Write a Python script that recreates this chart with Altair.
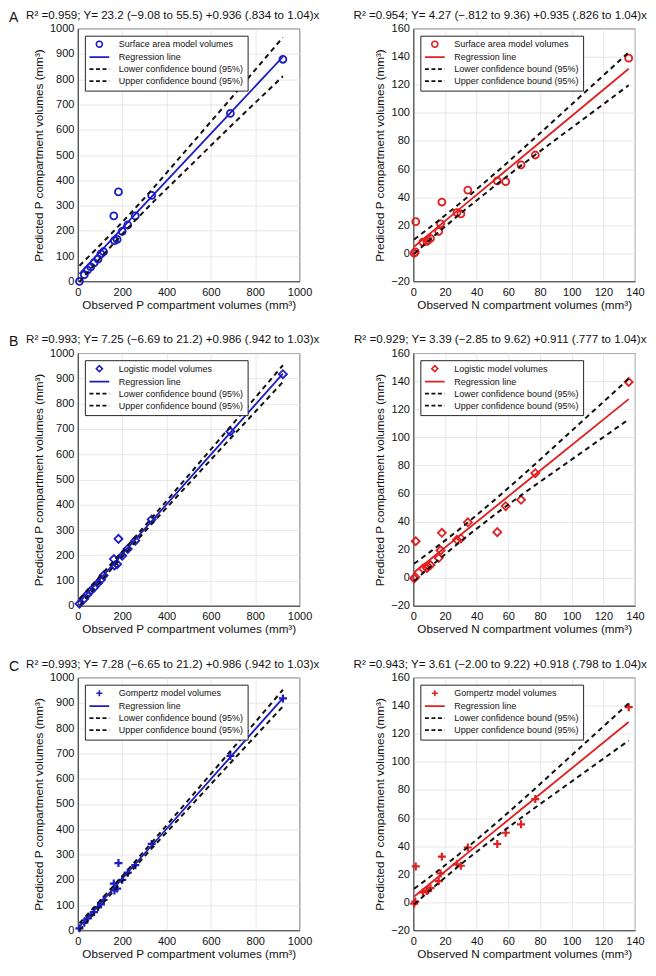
import altair as alt
import numpy as np
import pandas as pd

# ---------------- data ----------------
obs_P = [7, 29, 43, 58, 73, 91, 104, 116, 162, 165, 177, 183, 200, 225, 259, 333, 688, 925]
pred_P_surface = [0, 26, 44, 57, 73, 88, 109, 117, 259, 161, 166, 354, 198, 223, 259, 340, 665, 879]
pred_P_logistic = [8, 28, 45, 60, 72, 90, 103, 120, 185, 160, 165, 265, 198, 225, 258, 342, 690, 917]
pred_P_gompertz = [8, 30, 47, 60, 72, 92, 103, 120, 185, 158, 165, 266, 200, 228, 258, 342, 690, 918]

obs_N = [0.5, 1.2, 1.5, 6, 8.5, 9.3, 10.8, 16, 17.2, 18, 27.5, 30, 34.4, 53, 58.3, 68, 77, 136]
pred_N_surface = [0, 1, 22.5, 8, 8.5, 9.5, 10.5, 15.5, 21, 36.5, 29, 28, 45, 51.5, 51, 63, 70, 139]
pred_N_logistic = [-0.5, 0.5, 26, 6.5, 7, 8, 9, 14, 19.5, 32, 27, 28, 39.5, 32.5, 51, 55.5, 74.5, 139.5]
pred_N_gompertz = [-1, 0.5, 25.5, 7, 8, 8.5, 10, 15, 20.5, 32.5, 27, 26, 39, 41.5, 49.5, 55.5, 73.5, 139]

# regression results printed in each panel title:
# R2, intercept, intercept low, intercept high, slope, slope low, slope high
fit_P_surface = [0.959, 23.2, -9.08, 55.5, 0.936, 0.834, 1.04]
fit_N_surface = [0.954, 4.27, -0.812, 9.36, 0.935, 0.826, 1.04]
fit_P_logistic = [0.993, 7.25, -6.69, 21.2, 0.986, 0.942, 1.03]
fit_N_logistic = [0.929, 3.39, -2.85, 9.62, 0.911, 0.777, 1.04]
fit_P_gompertz = [0.993, 7.28, -6.65, 21.2, 0.986, 0.942, 1.03]
fit_N_gompertz = [0.943, 3.61, -2.00, 9.22, 0.918, 0.798, 1.04]

titles = [
    "R² =0.959; Y= 23.2 (−9.08 to 55.5) +0.936 (.834 to 1.04)x",
    "R² =0.954; Y= 4.27 (−.812 to 9.36) +0.935 (.826 to 1.04)x",
    "R² =0.993; Y= 7.25 (−6.69 to 21.2) +0.986 (.942 to 1.03)x",
    "R² =0.929; Y= 3.39 (−2.85 to 9.62) +0.911 (.777 to 1.04)x",
    "R² =0.993; Y= 7.28 (−6.65 to 21.2) +0.986 (.942 to 1.03)x",
    "R² =0.943; Y= 3.61 (−2.00 to 9.22) +0.918 (.798 to 1.04)x",
]
model_labels = ["Surface area model volumes", "Logistic model volumes", "Gompertz model volumes"]
line_labels = ["Regression line", "Lower confidence bound (95%)", "Upper confidence bound (95%)"]

P_ticks_y = [0, 100, 200, 300, 400, 500, 600, 700, 800, 900, 1000]
P_ticks_x = [0, 200, 400, 600, 800, 1000]
N_ticks_y = [-20, 0, 20, 40, 60, 80, 100, 120, 140, 160]
N_ticks_x = [0, 20, 40, 60, 80, 100, 120, 140]

# ---------------- styling ----------------
FONT = "Liberation Sans"
BLUE = "#1c1cc8"
RED = "#e02020"
BLACK = "#111111"
AXIS_C = "#262626"
LINE_PATH = "M-3.3,0L3.3,0"
PLUS_PATH = "M-1,0L1,0M0,-1L0,1"
W, H = 222, 253


def fit_frame(obs, fit):
    _, a, alo, ahi, b, blo, bhi = fit
    x = np.array(sorted(obs), dtype=float)
    xm = float(np.mean(obs))
    h0 = (ahi - alo) / 2.0
    hb = (bhi - blo) / 2.0
    c = max(h0 ** 2 - hb ** 2 * xm ** 2, 0.0)
    hw = np.sqrt(c + hb ** 2 * (x - xm) ** 2)
    yhat = a + b * x
    n = len(x)
    return pd.DataFrame({
        "x": np.concatenate([x, x, x]),
        "y": np.concatenate([yhat, yhat - hw, yhat + hw]),
        "line": ["reg"] * n + ["lo"] * n + ["hi"] * n,
    })


def panel(obs, pred, fit, kind, color, marker, msize, mstroke, model_label, title, letter, title_x):
    if kind == "P":
        xdom, ydom, xt, yt = [0, 1000], [0, 1000], P_ticks_x, P_ticks_y
        xtitle = "Observed P compartment volumes (mm³)"
    else:
        xdom, ydom, xt, yt = [0, 140], [-20, 160], N_ticks_x, N_ticks_y
        xtitle = "Observed N compartment volumes (mm³)"
    ytitle = "Predicted P compartment volumes (mm³)"
    xenc = alt.X("x:Q", scale=alt.Scale(domain=xdom, nice=False, zero=False),
                 axis=alt.Axis(values=xt, format="d", title=xtitle, labelPadding=5, titlePadding=2,
                               labelFlush=False))
    yenc = alt.Y("y:Q", scale=alt.Scale(domain=ydom, nice=False, zero=False),
                 axis=alt.Axis(values=yt, format="d", title=ytitle, labelPadding=4, titlePadding=5,
                               labelFlush=False))

    pts = pd.DataFrame({"x": obs, "y": pred})
    lines = fit_frame(obs, fit)

    points = alt.Chart(pts).mark_point(
        shape=marker, size=msize, filled=False, color=color, strokeWidth=mstroke, opacity=1
    ).encode(x=xenc, y=yenc)
    reg = alt.Chart(lines).transform_filter("datum.line == 'reg'").mark_line(
        color=color, strokeWidth=1.8
    ).encode(x=xenc, y=yenc)
    bounds = alt.Chart(lines).transform_filter("datum.line != 'reg'").mark_line(
        color=BLACK, strokeWidth=2, strokeDash=[5, 4]
    ).encode(x=xenc, y=yenc, detail="line:N")

    labels = [model_label] + line_labels
    leg_df = pd.DataFrame({"series": labels})
    legend_layer = alt.Chart(leg_df).mark_point(opacity=0, filled=False).encode(
        shape=alt.Shape("series:N", scale=alt.Scale(domain=labels,
                        range=[marker, LINE_PATH, LINE_PATH, LINE_PATH]), legend=alt.Legend(title=None)),
        color=alt.Color("series:N", scale=alt.Scale(domain=labels,
                        range=[color, color, BLACK, BLACK]), legend=alt.Legend(title=None)),
        strokeDash=alt.StrokeDash("series:N", scale=alt.Scale(domain=labels,
                        range=[[1, 0], [1, 0], [4, 2.5], [4, 2.5]]), legend=alt.Legend(title=None)),
    )
    # panel heading (regression summary) drawn as text above the plot area
    head = alt.Chart(pd.DataFrame({"t": [title]})).mark_text(
        align="center", baseline="middle", fontSize=11.6, font=FONT, color=BLACK
    ).encode(x=alt.value(title_x), y=alt.value(-13), text="t:N")
    layers = [points, reg, bounds, legend_layer, head]
    if letter:
        txt = alt.Chart(pd.DataFrame({"label": [letter]})).mark_text(
            align="left", baseline="middle", fontSize=14, font=FONT, color=BLACK
        ).encode(x=alt.value(-69), y=alt.value(-11), text="label:N")
        layers.append(txt)
    return alt.layer(*layers).properties(width=W, height=H)


charts = [
    panel(obs_P, pred_P_surface, fit_P_surface, "P", BLUE, "circle", 49, 1.8, model_labels[0], titles[0], "A", 95),
    panel(obs_N, pred_N_surface, fit_N_surface, "N", RED, "circle", 49, 1.8, model_labels[0], titles[1], "", 87),
    panel(obs_P, pred_P_logistic, fit_P_logistic, "P", BLUE, "diamond", 64, 1.8, model_labels[1], titles[2], "B", 95),
    panel(obs_N, pred_N_logistic, fit_N_logistic, "N", RED, "diamond", 64, 1.8, model_labels[1], titles[3], "", 87),
    panel(obs_P, pred_P_gompertz, fit_P_gompertz, "P", BLUE, PLUS_PATH, 64, 2.2, model_labels[2], titles[4], "C", 95),
    panel(obs_N, pred_N_gompertz, fit_N_gompertz, "N", RED, PLUS_PATH, 64, 2.2, model_labels[2], titles[5], "", 87),
]

chart = alt.concat(
    *charts, columns=2, spacing={"row": 72, "column": 114}, bounds="flush", padding=0
).resolve_scale(
    color="independent", shape="independent", strokeDash="independent", x="independent", y="independent"
).resolve_legend(
    color="independent", shape="independent", strokeDash="independent"
).configure_view(
    stroke=AXIS_C, strokeWidth=0.8
).configure_axis(
    labelFont=FONT, labelFontSize=11, labelColor=BLACK,
    titleFont=FONT, titleFontSize=11.7, titleFontWeight="normal", titleColor=BLACK,
    domainColor=AXIS_C, domainWidth=0.8, ticks=False,
    gridColor="#e2e2e2", gridWidth=0.8,
).configure_legend(
    orient="top-left", offset=7, padding=4, strokeColor=AXIS_C, fillColor="white",
    labelFont=FONT, labelFontSize=9, labelColor=BLACK, symbolSize=36, symbolStrokeWidth=1.6,
    symbolOffset=6, labelOffset=15, rowPadding=2, symbolOpacity=1,
)

chart.save("out.html", embed_options={"renderer": "svg", "actions": False})
